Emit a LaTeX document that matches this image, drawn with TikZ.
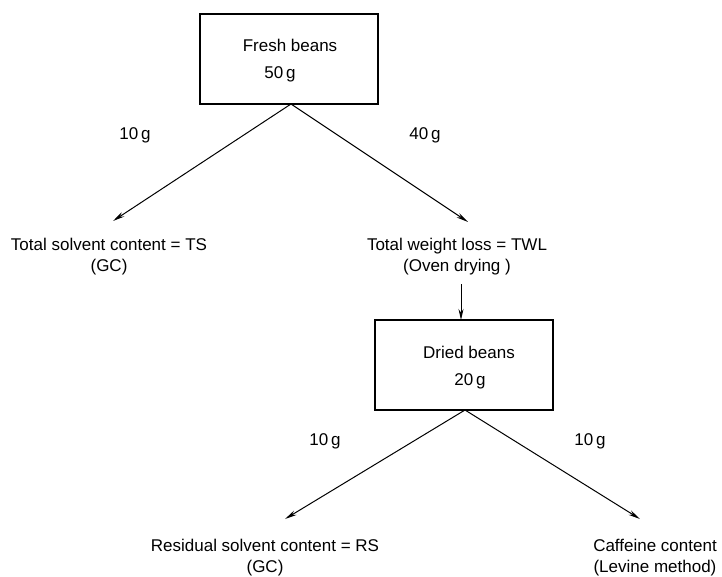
\documentclass[tikz,border=0pt]{standalone}
\usepackage{fontspec}
\setmainfont{Liberation Sans}
\usetikzlibrary{arrows.meta}
\begin{document}
\begin{tikzpicture}[x=1pt,y=-1pt,
  every node/.style={font=\fontsize{17}{20}\selectfont, inner sep=0pt},
  boxnode/.style={draw, line width=1.2pt, minimum width=178pt, minimum height=90pt},
  lbl/.style={align=center},
  conn/.style={line width=1pt, -{Stealth[length=12pt,width=5pt]}}]
\useasboundingbox (0,0) rectangle (722,576);
\node[boxnode] (fresh) at (289,59) {};
\node (freshT) at (290,45) {Fresh beans};
\node (freshW) at (280,74) {50\,g};
\coordinate (apex1) at (291,104);
\node[lbl] (ts) at (109,257) {Total solvent content = TS\\[1pt](GC)};
\node[lbl] (twl) at (457,257) {Total weight loss = TWL\\[1pt](Oven drying )};
\coordinate (tsT) at (113,221);
\coordinate (twlT) at (468,222);
\draw[conn] (apex1) -- (tsT);
\draw[conn] (apex1) -- (twlT);
\node (g1) at (135,135) {10\,g};
\node (g2) at (425,135) {40\,g};
\node[boxnode] (dried) at (464,365) {};
\node (driedT) at (469,352) {Dried beans};
\node (driedW) at (470,381) {20\,g};
\coordinate (ovB) at (461,284);
\draw[line width=1pt, -{Stealth[length=11pt,width=5pt]}] (ovB) -- (461,320);
\coordinate (apex2) at (465,410);
\coordinate (rsT) at (285,519);
\coordinate (cfT) at (640,519);
\draw[conn] (apex2) -- (rsT);
\draw[conn] (apex2) -- (cfT);
\node (g3) at (325,441) {10\,g};
\node (g4) at (590,441) {10\,g};
\node[lbl] (rs) at (265,558) {Residual solvent content = RS\\[1pt](GC)};
\node[lbl] (cf) at (655,558) {Caffeine content\\[1pt](Levine method)};
\end{tikzpicture}
\end{document}
